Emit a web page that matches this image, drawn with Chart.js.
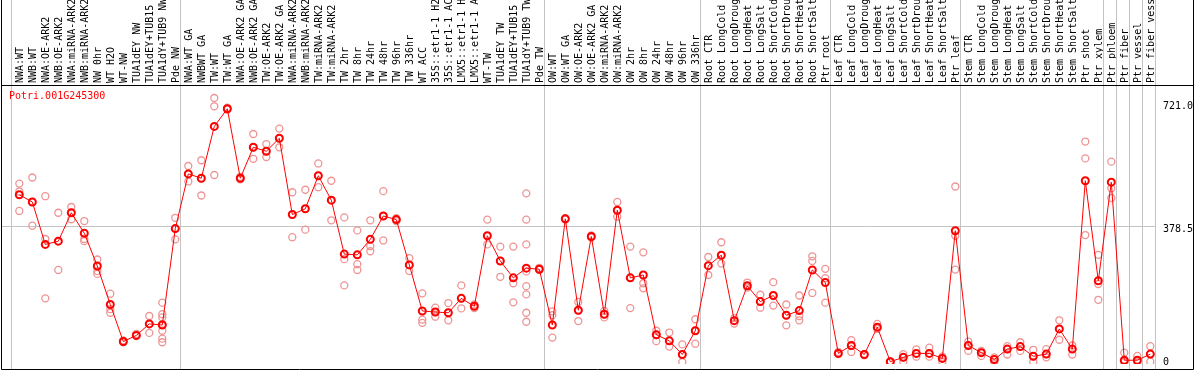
<!DOCTYPE html>
<html>
<head>
<meta charset="utf-8">
<script src="https://cdn.jsdelivr.net/npm/chart.js@4.4.1/dist/chart.umd.min.js"></script>
<style>
  html, body { margin: 0; padding: 0; background: #fff; }
  #chart { display: block; }
</style>
</head>
<body>
<canvas id="chart" width="1194" height="370"></canvas>
<script>
// Sample names, in plot order (some names repeat in the source)
const categories = [
  "NWA:WT", "NWB:WT", "NWA:OE-ARK2", "NWB:OE-ARK2", "NWA:miRNA-ARK2", "NWB:miRNA-ARK2",
  "NW 0hr", "WT H2O", "WT-NW", "TUA1dEY NW", "TUA1dEY+TUB15 NW", "TUA1dY+TUB9 NW", "Pde NW",
  "NWA:WT GA", "NWBWT GA", "TW:WT", "TW:WT GA", "NWA:OE-ARK2 GA", "NWB:OE-ARK2 GA",
  "TW:OE-ARK2", "TW:OE-ARK2 GA", "NWA:miRNA-ARK2", "NWB:miRNA-ARK2", "TW:miRNA-ARK2", "TW:miRNA-ARK2",
  "TW 2hr", "TW 8hr", "TW 24hr", "TW 48hr", "TW 96hr", "TW 336hr", "WT ACC",
  "35S::etr1-1 H2O", "35S::etr1-1 ACC", "LMX5::etr1-1 H2O", "LMX5::etr1-1 ACC",
  "WT-TW", "TUA1dEY TW", "TUA1dEY+TUB15 TW", "TUA1dY+TUB9 TW", "Pde TW",
  "OW:WT", "OW:WT GA", "OW:OE-ARK2", "OW:OE-ARK2 GA", "OW:miRNA-ARK2", "OW:miRNA-ARK2",
  "OW 2hr", "OW 8hr", "OW 24hr", "OW 48hr", "OW 96hr", "OW 336hr",
  "Root CTR", "Root LongCold", "Root LongDrought", "Root LongHeat", "Root LongSalt",
  "Root ShortCold", "Root ShortDrought", "Root ShortHeat", "Root ShortSalt", "Ptr root",
  "Leaf CTR", "Leaf LongCold", "Leaf LongDrought", "Leaf LongHeat", "Leaf LongSalt",
  "Leaf ShortCold", "Leaf ShortDrought", "Leaf ShortHeat", "Leaf ShortSalt", "Ptr leaf",
  "Stem CTR", "Stem LongCold", "Stem LongDrought", "Stem LongHeat", "Stem LongSalt",
  "Stem ShortCold", "Stem ShortDrought", "Stem ShortHeat", "Stem ShortSalt",
  "Ptr shoot", "Ptr xylem", "Ptr phloem", "Ptr fiber", "Ptr vessel", "Ptr fiber vessel"
];

// Mean expression per sample
const means = [
  465, 445, 327, 336, 415, 358, 267, 160, 57, 74, 106, 103, 371,
  523, 511, 655, 704, 511, 597, 586, 622, 410, 426, 518, 450,
  300, 298, 341, 406, 396, 270, 142, 139, 137, 177, 155, 351, 281, 234, 261, 258,
  103, 398, 144, 349, 133, 422, 234, 242, 76, 59, 21, 87,
  268, 297, 115, 212, 168, 185, 130, 143, 256, 221,
  24, 46, 21, 97, 1, 13, 24, 24, 10, 365,
  46, 26, 7, 36, 43, 16, 22, 92, 36, 504, 226,
  500, 5, 5, 22
];

// Individual replicates per sample
const replicates = [
  [496, 474, 420], [513, 445, 379], [461, 342, 177], [415, 336, 256], [431, 415, 397],
  [392, 342, 336], [285, 253, 245], [190, 147, 137], [60, 57, 55], [78, 74, 72],
  [128, 106, 81], [165, 133, 124, 106, 87, 65, 55], [401, 371, 341],
  [545, 523, 502], [561, 511, 463], [734, 711, 520], [707, 704, 702], [515, 511, 508],
  [634, 597, 565], [606, 586, 570], [649, 622, 597], [472, 410, 347], [479, 426, 368],
  [552, 518, 486], [504, 450, 394], [402, 286, 213], [366, 272, 256], [394, 322, 308],
  [475, 406, 338], [400, 396, 392], [289, 270, 253], [191, 118, 109], [151, 139, 126],
  [164, 137, 116], [213, 177, 149], [160, 155, 150], [396, 351, 327], [321, 281, 237],
  [321, 219, 166], [469, 396, 327, 252, 211, 188, 137, 112], [262, 258, 256],
  [141, 130, 68], [400, 398, 396], [167, 144, 114], [352, 349, 346], [142, 133, 124],
  [445, 422, 404], [321, 234, 150], [305, 219, 205], [87, 76, 58], [82, 59, 43],
  [49, 21, 0], [119, 87, 51],
  [292, 268, 242], [333, 297, 274], [122, 115, 107], [221, 212, 207], [187, 168, 151],
  [222, 185, 157], [160, 130, 102], [185, 128, 116], [294, 281, 192], [259, 233, 165],
  [28, 24, 22], [61, 46, 28], [22, 21, 19], [106, 97, 92], [2, 1, 0],
  [22, 13, 1], [35, 24, 15], [40, 24, 15], [15, 10, 1], [488, 351, 257],
  [57, 46, 31], [31, 26, 17], [13, 7, 0], [44, 36, 21], [55, 43, 31],
  [34, 16, 0], [36, 22, 13], [116, 92, 62], [46, 36, 21], [613, 566, 353], [298, 217, 173],
  [557, 483, 456], [26, 2, 0], [17, 5, 0], [44, 22, 1]
];

// first sample index of each tissue group (last = end)
const groupStarts = [0, 13, 41, 53, 63, 73, 84, 85, 86, 87, 88];
const yTicks = [0, 378.5, 721];
const geneName = "Potri.001G245300";

const MONO = '"DejaVu Sans Mono", monospace';

const meanPoints = means.map((v, i) => ({ x: i, y: v }));
const repPoints = [];
replicates.forEach((reps, i) => reps.forEach(v => repPoints.push({ x: i, y: v })));

const decor = {
  id: "decor",
  beforeDatasetsDraw(chart) {
    const { ctx, scales: { x, y } } = chart;
    ctx.save();
    ctx.strokeStyle = "#c3c3c3";
    ctx.lineWidth = 1;
    groupStarts.forEach(g => {
      const px = Math.round(x.getPixelForValue(g - 0.66)) + 0.5;
      ctx.beginPath(); ctx.moveTo(px, 0); ctx.lineTo(px, 369); ctx.stroke();
    });
    const gy = Math.round(y.getPixelForValue(378.5)) + 0.5;
    ctx.beginPath();
    ctx.moveTo(1, gy);
    ctx.lineTo(Math.round(x.getPixelForValue(88 - 0.66)), gy);
    ctx.stroke();
    ctx.restore();
  },
  afterDraw(chart) {
    const { ctx, scales: { y } } = chart;
    ctx.save();
    // frame
    ctx.strokeStyle = "#000";
    ctx.lineWidth = 1;
    ctx.beginPath();
    ctx.moveTo(1.5, 0); ctx.lineTo(1.5, 369.5); ctx.lineTo(1193.5, 369.5); ctx.lineTo(1193.5, 0);
    ctx.moveTo(1, 85.5); ctx.lineTo(1194, 85.5);
    ctx.stroke();
    // value labels on the right
    ctx.font = "10px " + MONO;
    ctx.fillStyle = "#000";
    ctx.textAlign = "left";
    ctx.textBaseline = "middle";
    yTicks.forEach(v => {
      const py = Math.min(y.getPixelForValue(v) + 4, 362);
      ctx.fillText(v === 0 ? "0" : v.toFixed(1), 1163, py);
    });
    // gene name
    ctx.fillStyle = "#ff0000";
    ctx.textBaseline = "top";
    ctx.fillText(geneName, 9, 91);
    ctx.restore();
  }
};

new Chart(document.getElementById("chart"), {
  type: "scatter",
  data: {
    datasets: [
      {
        data: meanPoints,
        showLine: true,
        borderColor: "#ff0000",
        borderWidth: 1,
        pointRadius: 3.5,
        pointBorderWidth: 2,
        pointBorderColor: "#ff0000",
        pointBackgroundColor: "rgba(0,0,0,0)",
        order: 1
      },
      {
        data: repPoints,
        showLine: false,
        pointRadius: 3.5,
        pointBorderWidth: 1.3,
        pointBorderColor: "#ee9494",
        pointBackgroundColor: "rgba(0,0,0,0)",
        order: 2
      }
    ]
  },
  options: {
    responsive: false,
    animation: false,
    devicePixelRatio: 1,
    layout: { padding: { left: 12.8, right: 37.2, top: 0, bottom: 1 } },
    plugins: { legend: { display: false }, tooltip: { enabled: false } },
    scales: {
      x: {
        type: "linear",
        position: "top",
        min: -0.5,
        max: 87.5,
        afterBuildTicks: s => { s.ticks = categories.map((_, i) => ({ value: i })); },
        afterFit: s => { s.height = 85; },
        grid: { display: false, drawTicks: false },
        border: { display: false },
        ticks: {
          autoSkip: false,
          minRotation: 90,
          maxRotation: 90,
          padding: 2,
          labelOffset: 13.5,
          color: "#000",
          font: { family: MONO, size: 10 },
          callback: v => categories[v]
        }
      },
      y: {
        display: false,
        min: -5.46,
        max: 770.16
      }
    }
  },
  plugins: [decor]
});
</script>
</body>
</html>
